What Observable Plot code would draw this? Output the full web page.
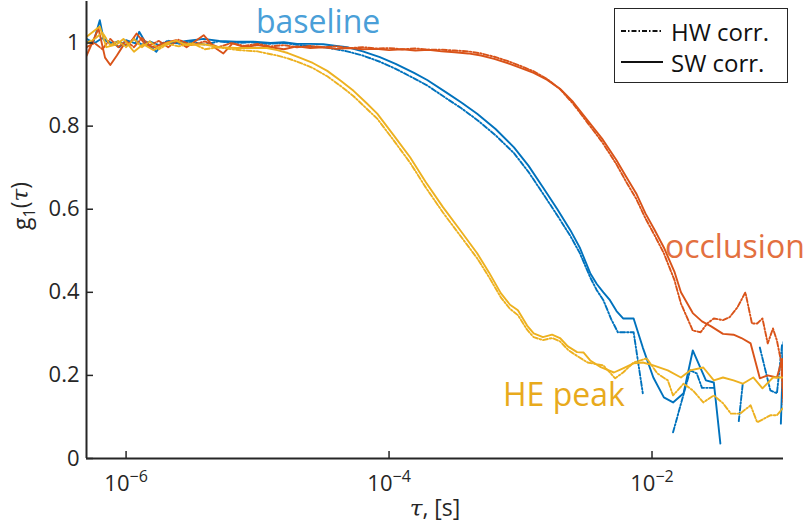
<!DOCTYPE html>
<html><head><meta charset="utf-8">
<script src="https://cdn.jsdelivr.net/npm/d3@7"></script>
<script src="https://cdn.jsdelivr.net/npm/@observablehq/plot@0.6"></script>
<style>
body{margin:0;background:#fff;font-family:"Open Sans",sans-serif;}
#wrap{position:relative;width:812px;height:528px;}
#legend{position:absolute;left:614px;top:8px;width:172px;height:73px;border:1.5px solid #262626;background:#fff;color:#111;font-size:24px;}
#legend .row{position:absolute;left:6px;height:30px;display:flex;align-items:center;}
#legend svg{margin-right:8px;}
</style></head><body><div id="wrap"></div>
<script>
// ---- data: [log10(tau [s]), g1] ----
const baselineSW = [[-6.30,1.003],[-6.25,1.0],[-6.20,1.055],[-6.17,1.008],[-6.10,0.999],[-6.05,0.99],[-6.00,1.007],[-5.93,0.999],[-5.90,1.027],[-5.85,1.0],[-5.77,0.979],[-5.72,1.0],[-5.64,1.0],[-5.54,1.005],[-5.41,1.01],[-5.29,1.005],[-5.16,1.003],[-5.03,1.003],[-4.90,1.0],[-4.80,1.002],[-4.70,0.998],[-4.60,0.998],[-4.50,0.997],[-4.40,0.993],[-4.32,0.99],[-4.20,0.98],[-4.07,0.966],[-3.95,0.95],[-3.81,0.928],[-3.71,0.911],[-3.56,0.88],[-3.45,0.857],[-3.33,0.83],[-3.19,0.793],[-3.05,0.749],[-2.94,0.705],[-2.83,0.653],[-2.72,0.60],[-2.62,0.549],[-2.55,0.508],[-2.47,0.446],[-2.42,0.42],[-2.37,0.40],[-2.32,0.381],[-2.27,0.355],[-2.22,0.337],[-2.14,0.337],[-2.07,0.267],[-1.99,0.195],[-1.91,0.147],[-1.84,0.135],[-1.76,0.157],[-1.69,0.26],[-1.59,0.188],[-1.53,0.183],[-1.48,0.036],[-1.25,null],[-1.02,0.084],[-1.00,0.28]];
const baselineHW = [[-6.30,1.01],[-6.24,1.0],[-6.18,1.012],[-6.12,0.998],[-6.06,1.004],[-6.00,0.995],[-5.94,1.01],[-5.88,0.996],[-5.82,1.004],[-5.75,0.995],[-5.68,1.006],[-5.60,0.998],[-5.50,1.003],[-5.40,0.996],[-5.30,1.004],[-5.18,1.0],[-5.05,1.002],[-4.92,0.998],[-4.80,1.0],[-4.70,0.996],[-4.60,0.992],[-4.50,0.99],[-4.40,0.985],[-4.32,0.98],[-4.20,0.97],[-4.07,0.955],[-3.95,0.938],[-3.81,0.915],[-3.71,0.898],[-3.56,0.866],[-3.45,0.843],[-3.33,0.815],[-3.19,0.778],[-3.05,0.735],[-2.94,0.69],[-2.83,0.638],[-2.72,0.585],[-2.62,0.535],[-2.55,0.495],[-2.47,0.436],[-2.42,0.405],[-2.37,0.381],[-2.31,0.335],[-2.26,0.304],[-2.14,0.304],[-2.07,0.157],[-1.95,null],[-1.84,0.063],[-1.71,0.212],[-1.66,0.205],[-1.62,0.17],[-1.53,0.17],[-1.45,null],[-1.34,0.09],[-1.31,0.18],[-1.25,null],[-1.18,0.267],[-1.10,0.164],[-1.05,0.157],[-1.01,0.277]];
const occlusionSW = [[-6.30,0.97],[-6.21,1.035],[-6.16,0.965],[-6.12,0.947],[-6.07,0.97],[-6.02,0.995],[-5.97,1.0],[-5.92,1.023],[-5.85,0.995],[-5.78,0.99],[-5.72,0.999],[-5.62,1.007],[-5.54,0.99],[-5.41,1.019],[-5.33,0.99],[-5.26,0.975],[-5.19,0.999],[-5.10,0.99],[-5.00,0.995],[-4.90,0.99],[-4.80,0.985],[-4.70,0.992],[-4.60,0.988],[-4.50,0.99],[-4.40,0.986],[-4.30,0.988],[-4.20,0.985],[-4.10,0.986],[-4.00,0.983],[-3.90,0.985],[-3.80,0.982],[-3.70,0.984],[-3.60,0.98],[-3.50,0.978],[-3.40,0.975],[-3.30,0.97],[-3.20,0.962],[-3.10,0.952],[-3.00,0.94],[-2.90,0.928],[-2.80,0.912],[-2.70,0.89],[-2.60,0.858],[-2.49,0.814],[-2.38,0.77],[-2.27,0.718],[-2.20,0.68],[-2.12,0.638],[-2.05,0.59],[-1.98,0.55],[-1.91,0.508],[-1.83,0.45],[-1.78,0.40],[-1.69,0.35],[-1.62,0.33],[-1.55,0.318],[-1.46,0.30],[-1.38,0.298],[-1.32,0.29],[-1.25,0.277],[-1.18,0.193],[-1.12,0.2],[-1.05,0.195],[-1.01,0.24],[-0.995,0.13]];
const occlusionHW = [[-6.30,0.99],[-6.24,1.0],[-6.18,0.985],[-6.12,1.01],[-6.06,0.99],[-6.00,1.005],[-5.94,0.99],[-5.88,1.012],[-5.82,0.995],[-5.75,1.005],[-5.68,0.99],[-5.60,1.008],[-5.50,0.995],[-5.40,1.004],[-5.30,0.99],[-5.20,1.0],[-5.10,0.993],[-5.00,0.998],[-4.90,0.992],[-4.80,0.995],[-4.70,0.99],[-4.60,0.993],[-4.50,0.99],[-4.40,0.992],[-4.30,0.988],[-4.20,0.99],[-4.10,0.987],[-4.00,0.988],[-3.90,0.985],[-3.80,0.987],[-3.70,0.984],[-3.60,0.984],[-3.50,0.982],[-3.40,0.98],[-3.30,0.975],[-3.20,0.967],[-3.10,0.957],[-3.00,0.945],[-2.90,0.932],[-2.80,0.914],[-2.70,0.889],[-2.60,0.854],[-2.49,0.808],[-2.38,0.762],[-2.27,0.708],[-2.20,0.668],[-2.12,0.625],[-2.05,0.578],[-1.98,0.537],[-1.91,0.494],[-1.83,0.43],[-1.78,0.373],[-1.69,0.308],[-1.63,0.304],[-1.58,0.325],[-1.53,0.337],[-1.46,0.333],[-1.41,0.34],[-1.35,0.364],[-1.29,0.40],[-1.24,0.325],[-1.20,0.325],[-1.16,0.337],[-1.12,0.277],[-1.08,0.313],[-1.05,0.284],[-1.02,0.236],[-1.00,0.13]];
const hePeakSW = [[-6.30,1.015],[-6.20,1.04],[-6.15,0.99],[-6.07,0.997],[-6.02,1.01],[-5.94,0.979],[-5.87,0.997],[-5.79,0.983],[-5.69,1.0],[-5.62,1.006],[-5.54,0.995],[-5.41,0.997],[-5.29,0.99],[-5.16,0.988],[-5.03,0.988],[-4.93,0.988],[-4.85,0.983],[-4.77,0.976],[-4.68,0.965],[-4.58,0.952],[-4.47,0.933],[-4.37,0.91],[-4.27,0.885],[-4.17,0.855],[-4.09,0.83],[-3.97,0.78],[-3.84,0.725],[-3.72,0.665],[-3.59,0.605],[-3.46,0.55],[-3.33,0.494],[-3.24,0.448],[-3.15,0.398],[-3.08,0.37],[-3.02,0.357],[-2.95,0.32],[-2.90,0.301],[-2.83,0.292],[-2.76,0.298],[-2.70,0.29],[-2.64,0.27],[-2.57,0.256],[-2.52,0.255],[-2.47,0.236],[-2.39,0.22],[-2.29,0.207],[-2.22,0.217],[-2.14,0.229],[-2.07,0.231],[-1.99,0.224],[-1.88,0.212],[-1.78,0.195],[-1.71,0.212],[-1.61,0.219],[-1.53,0.188],[-1.46,0.195],[-1.38,0.188],[-1.31,0.18],[-1.23,0.195],[-1.16,0.169],[-1.08,0.195],[-1.01,0.195]];
const hePeakHW = [[-6.30,1.0],[-6.24,1.01],[-6.18,1.025],[-6.12,0.995],[-6.06,1.005],[-6.00,0.99],[-5.94,1.01],[-5.88,0.99],[-5.82,1.004],[-5.75,0.985],[-5.68,0.998],[-5.60,0.992],[-5.50,1.0],[-5.40,0.985],[-5.30,0.99],[-5.20,0.985],[-5.10,0.982],[-5.00,0.98],[-4.93,0.975],[-4.85,0.97],[-4.77,0.963],[-4.68,0.953],[-4.58,0.94],[-4.47,0.92],[-4.37,0.897],[-4.27,0.872],[-4.17,0.842],[-4.09,0.818],[-3.97,0.768],[-3.84,0.712],[-3.72,0.652],[-3.59,0.592],[-3.46,0.537],[-3.33,0.482],[-3.24,0.437],[-3.15,0.388],[-3.08,0.36],[-3.02,0.345],[-2.95,0.31],[-2.90,0.292],[-2.83,0.285],[-2.76,0.29],[-2.70,0.282],[-2.64,0.262],[-2.60,0.253],[-2.49,0.231],[-2.37,0.224],[-2.28,0.193],[-2.22,0.207],[-2.14,0.231],[-2.04,0.241],[-1.96,0.205],[-1.88,0.188],[-1.84,0.152],[-1.76,0.18],[-1.69,0.164],[-1.61,0.135],[-1.53,0.152],[-1.46,0.133],[-1.40,0.108],[-1.33,0.108],[-1.25,0.128],[-1.20,0.087],[-1.10,0.104],[-1.05,0.104],[-1.00,0.123]];

const seriesNames = ["baseline", "occlusion", "HE peak"];
const seriesColors = ["#0072BD", "#D95319", "#EDB120"];
const labelColors = ["#4A9FD8", "#E3703F", "#E8AA1C"];
const labelLogTau = [-4.54, -1.37, -2.67];
const labelG = [1.05, 0.508, 0.152];
const xTicks = [1e-6, 1e-4, 1e-2];
const yTicks = [0, 0.2, 0.4, 0.6, 0.8, 1];
const xDomain = [5e-7, 0.1];
const yDomain = [0, 1.1];
const legendLabels = ["HW corr.", "SW corr."];

const W = 812, H = 528, mL = 86, mR = 29, mT = 1, mB = 70, tickLen = 7;
const curves = [
  {pts: baselineSW, s: 0, hw: false}, {pts: baselineHW, s: 0, hw: true},
  {pts: occlusionSW, s: 1, hw: false}, {pts: occlusionHW, s: 1, hw: true},
  {pts: hePeakSW, s: 2, hw: false}, {pts: hePeakHW, s: 2, hw: true}
];
const dash = "5,2,1.5,2";
const annotations = seriesNames.map((name, i) => ({label: name, tau: 10 ** labelLogTau[i], g: labelG[i], color: labelColors[i]}));

const lineMarks = curves.map(c => Plot.line(c.pts.map(([lt, g]) => ({tau: 10 ** lt, g})), {
  x: "tau", y: "g", stroke: seriesColors[c.s], strokeWidth: 1.9,
  strokeDasharray: c.hw ? dash : null, clip: true, curve: "linear"
}));

const chart = Plot.plot({
  width: W, height: H,
  marginLeft: mL, marginRight: mR, marginTop: mT, marginBottom: mB,
  x: {type: "log", domain: xDomain},
  y: {domain: yDomain},
  color: {type: "identity"},
  style: {fontFamily: "'Open Sans', sans-serif", fontSize: "22px", color: "#262626", background: "white"},
  marks: [
    ...lineMarks,
    Plot.ruleY([yDomain[0]], {stroke: "#262626", strokeWidth: 2}),
    Plot.ruleX([xDomain[0]], {stroke: "#262626", strokeWidth: 2}),
    // inward ticks (MATLAB style)
    Plot.tickX(xTicks, {x: d => d, stroke: "#262626", strokeWidth: 1.5, insetTop: (H - mT - mB) - tickLen}),
    Plot.tickY(yTicks, {y: d => d, stroke: "#262626", strokeWidth: 1.5, insetRight: (W - mL - mR) - tickLen}),
    Plot.axisX({ticks: xTicks, tickSize: 0, tickPadding: 17, tickFormat: d => "10|" + Math.round(Math.log10(d)), label: null, fontSize: 22, fill: "#262626"}),
    Plot.axisY({ticks: yTicks, tickSize: 0, tickPadding: 7, tickFormat: d => String(d), label: null, fontSize: 22, fill: "#262626"}),
    Plot.text(annotations, {x: "tau", y: "g", text: "label", fill: "color", fontSize: 32}),
    Plot.text(["ylab"], {frameAnchor: "left", dx: -64, rotate: -90, text: d => d, fontSize: 23, fill: "#262626"}),
    Plot.text(["xlab"], {frameAnchor: "bottom", dy: 57, text: d => d, fontSize: 23, fill: "#262626"})
  ]
});

const ns = "http://www.w3.org/2000/svg";
// superscript exponents on x tick labels
chart.querySelectorAll("text").forEach(t => {
  if (!t.textContent.includes("|")) return;
  const [base, exp] = t.textContent.split("|");
  t.textContent = "";
  const a = document.createElementNS(ns, "tspan"); a.textContent = base;
  const b = document.createElementNS(ns, "tspan"); b.textContent = exp.replace("-", "\u2212");
  b.setAttribute("dy", "-0.55em"); b.setAttribute("font-size", "16");
  t.appendChild(a); t.appendChild(b);
});
function richLabel(key, parts) {
  chart.querySelectorAll("text").forEach(t => {
    if (t.textContent !== key) return;
    t.textContent = "";
    parts.forEach(p => {
      const s = document.createElementNS(ns, "tspan");
      s.textContent = p.t;
      if (p.dy) s.setAttribute("dy", p.dy);
      if (p.fs) s.setAttribute("font-size", p.fs);
      if (p.it) s.setAttribute("font-style", "italic");
      if (p.ff) s.setAttribute("font-family", p.ff);
      t.appendChild(s);
    });
  });
}
richLabel("ylab", [{t: "g"}, {t: "1", dy: "0.3em", fs: 16}, {t: "(", dy: "-0.3em"}, {t: "\u03C4", it: true, ff: "DejaVu Serif"}, {t: ")"}]);
richLabel("xlab", [{t: "\u03C4", it: true, ff: "DejaVu Serif"}, {t: ", [s]"}]);

const wrap = document.getElementById("wrap");
wrap.appendChild(chart);
const legend = document.createElement("div");
legend.id = "legend";
legendLabels.forEach((lab, i) => {
  const row = document.createElement("div");
  row.className = "row";
  row.style.top = (i === 0 ? 7 : 38) + "px";
  row.innerHTML = `<svg width="42" height="6"><line x1="0" y1="3" x2="42" y2="3" stroke="#111" stroke-width="2" ${i === 0 ? `stroke-dasharray="${dash}"` : ""}/></svg><span>${lab}</span>`;
  legend.appendChild(row);
});
wrap.appendChild(legend);
</script></body></html>
